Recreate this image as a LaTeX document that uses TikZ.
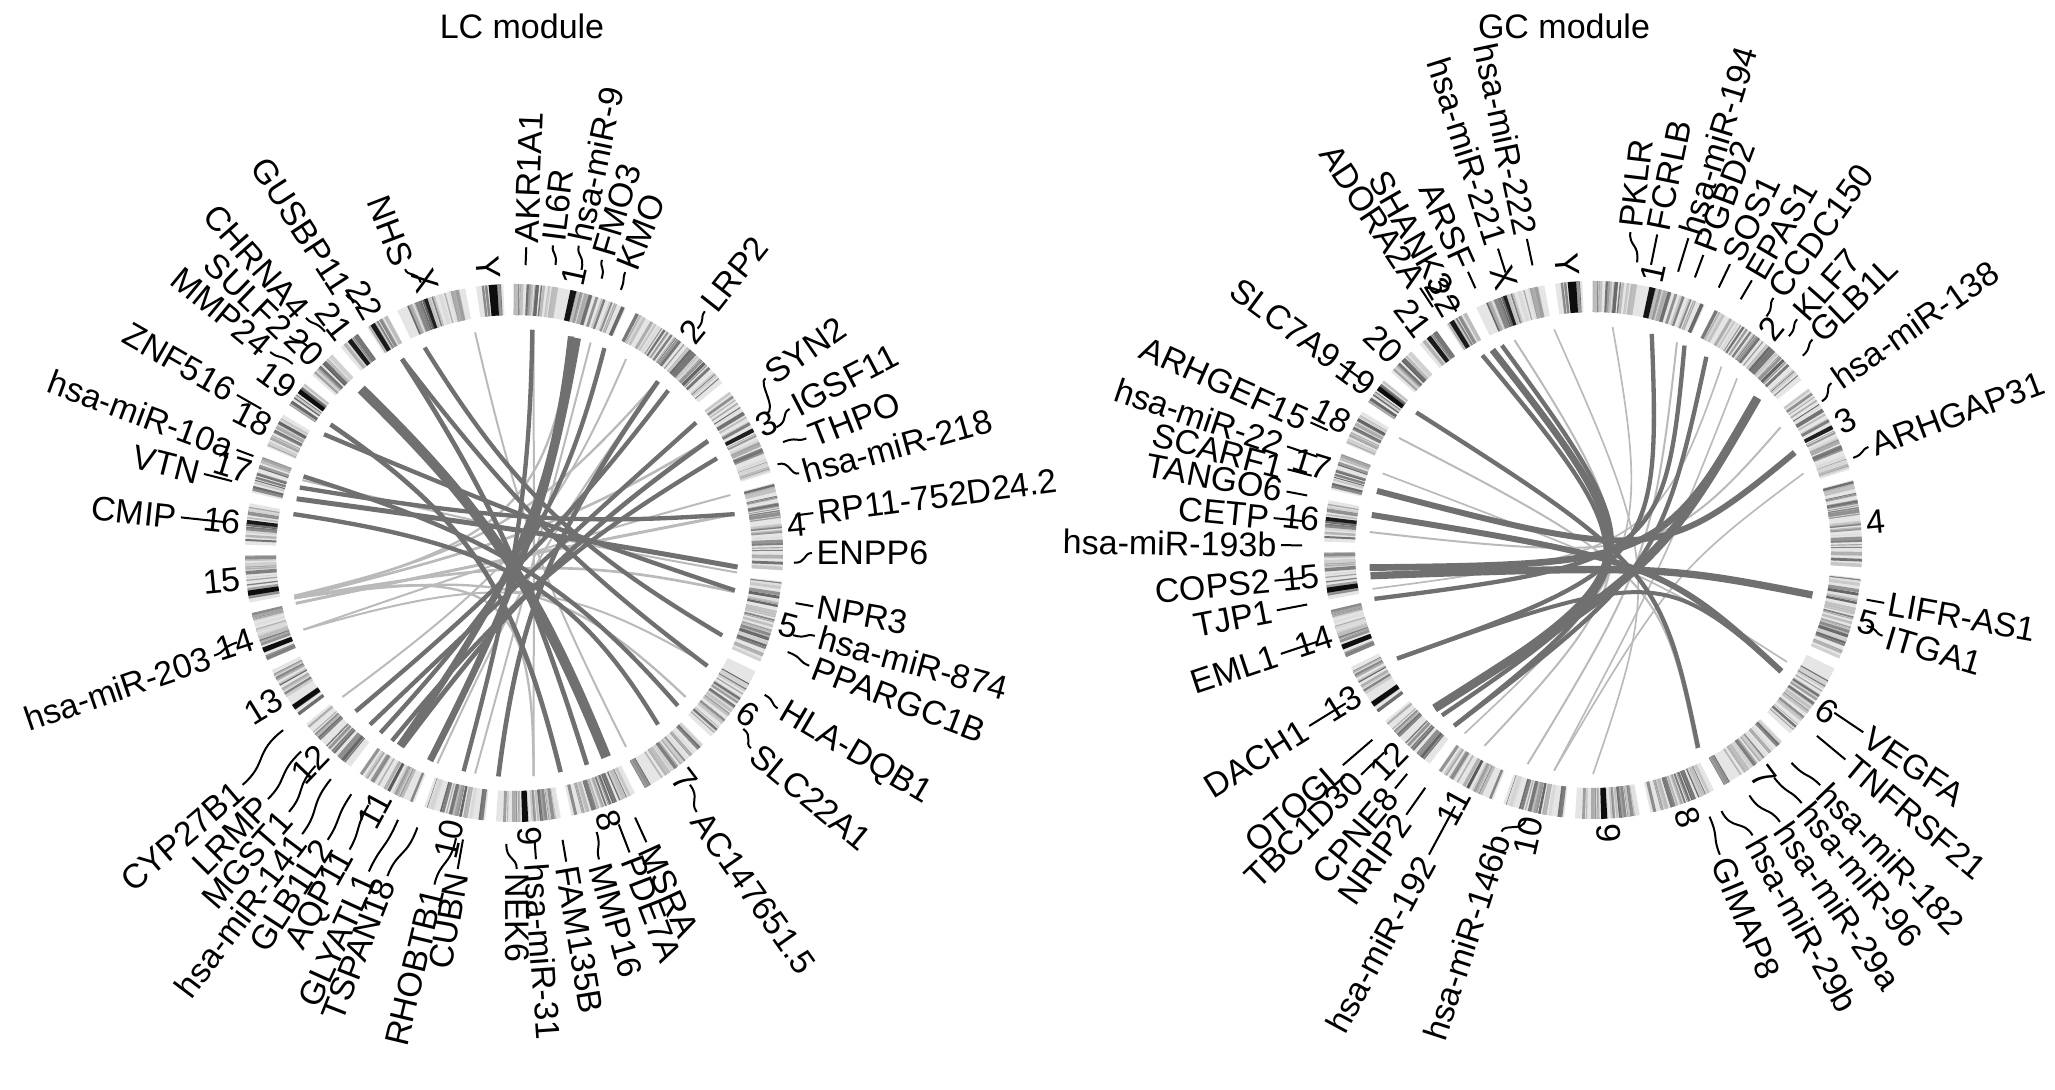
\documentclass[tikz,border=0pt]{standalone}
\usepackage{fontspec}
\setmainfont{Liberation Sans}
\usetikzlibrary{calc}
\newcounter{lk}\newcounter{gl}\newcounter{cn}
\def\Ro{269}\def\Ri{238}\def\Rl{224}
\tikzset{
  darklink/.style={draw=black!56},
  lightlink/.style={draw=black!27},
  genelabel/.style={inner sep=0pt, font=\fontsize{10.2}{12}\selectfont},
  chrlabel/.style={inner sep=0pt, font=\fontsize{10.2}{12}\selectfont},
  squig/.style={draw=black, line width=0.6pt},
  titlelabel/.style={inner sep=0pt, font=\fontsize{10.2}{12}\selectfont}
}
% one chromosome of the ideogram ring
\newcommand\ideo[4]{%
  \fill[black!10] ($(#1)+({90-(#2)}:\Ri)$) arc[start angle={90-(#2)}, end angle={90-(#3)}, radius=\Ri]
     -- ($(#1)+({90-(#3)}:\Ro)$) arc[start angle={90-(#3)}, end angle={90-(#2)}, radius=\Ro] -- cycle;
  \pgfmathtruncatemacro\nst{(#3-#2)*1.9}%
  \foreach \k in {1,...,\nst}{%
    \pgfmathsetmacro\pa{#2+0.25+(#3-#2-0.5)*rnd}%
    \pgfmathsetmacro\gw{0.25+0.85*rnd}%
    \pgfmathtruncatemacro\gd{12+50*rnd}%
    \draw[black!\gd, line width={\gw*1pt}] ($(#1)+({90-\pa}:\Ri)$) -- ($(#1)+({90-\pa}:\Ro)$);
  }%
  \foreach \fa/\wa/\da in {#4}{%
    \pgfmathsetmacro\pa{#2+(#3-#2)*\fa}%
    \fill[black!\da] ($(#1)+({90-\pa+\wa/2}:\Ri)$) arc[start angle={90-\pa+\wa/2}, end angle={90-\pa-\wa/2}, radius=\Ri]
      -- ($(#1)+({90-\pa-\wa/2}:\Ro)$) arc[start angle={90-\pa-\wa/2}, end angle={90-\pa+\wa/2}, radius=\Ro] -- cycle;
  }%
}
\newcommand\allideo[1]{%
 \pgfmathsetseed{11}%
 \ideo{#1}{0}{24.54}{0.52/1.3/92,0.12/0.5/55,0.8/0.5/50}%
 \ideo{#1}{26.84}{50.79}{0.3/0.5/55,0.62/0.5/55}%
 \ideo{#1}{53.09}{72.59}{0.5/0.9/88}%
 \ideo{#1}{74.89}{93.72}{0.25/0.5/55,0.7/0.4/50}%
 \ideo{#1}{96.02}{113.83}{0.3/0.5/60}%
 \ideo{#1}{116.13}{132.98}{0.4/0.5/55}%
 \ideo{#1}{135.28}{150.95}{0.5/0.5/50}%
 \ideo{#1}{153.25}{167.66}{0.4/0.5/55}%
 \ideo{#1}{169.96}{183.86}{0.55/1.3/95}%
 \ideo{#1}{186.16}{199.50}{0.4/0.5/60}%
 \ideo{#1}{201.80}{215.09}{0.45/0.6/65}%
 \ideo{#1}{217.39}{230.57}{0.35/0.5/55}%
 \ideo{#1}{232.87}{244.21}{0.19/1.1/95}%
 \ideo{#1}{246.51}{257.08}{0.22/1.1/95}%
 \ideo{#1}{259.38}{269.47}{0.2/1.1/95}%
 \ideo{#1}{271.77}{280.67}{0.55/0.8/90}%
 \ideo{#1}{282.97}{290.97}{0.5/0.4/55}%
 \ideo{#1}{293.27}{300.96}{0.5/0.4/55}%
 \ideo{#1}{303.26}{309.08}{0.64/1.0/95}%
 \ideo{#1}{311.38}{317.58}{0.4/0.4/55}%
 \ideo{#1}{319.88}{324.62}{0.52/1.0/90}%
 \ideo{#1}{326.92}{331.97}{0.27/1.0/90}%
 \ideo{#1}{334.27}{349.56}{0.43/0.7/88}%
 \ideo{#1}{351.86}{357.71}{0.62/1.8/95}%
}
% link bent towards a hub point: #1 centre, #2/#3 angles, #4 width, #5 style, #6/#7 hub offset, #8 pull
\newcommand\lnk[8]{%
  \stepcounter{lk}%
  \coordinate (la\thelk) at ($(#1)+({90-(#2)}:\Rl)$);
  \coordinate (lb\thelk) at ($(#1)+({90-(#3)}:\Rl)$);
  \coordinate (lh\thelk) at ($(#1)+(#6,#7)$);
  \draw[#5, line width={(#4)*1pt}] (la\thelk) .. controls ($(la\thelk)!#8!(lh\thelk)$) and ($(lb\thelk)!#8!(lh\thelk)$) .. (lb\thelk);
}
% gene label with its little connector
\newcommand\glab[5]{%
  \stepcounter{gl}%
  \ifdim #2 pt<180pt\relax\def\lanc{west}\pgfmathsetmacro\lrot{90-(#2)}\else\def\lanc{east}\pgfmathsetmacro\lrot{270-(#2)}\fi
  \pgfmathsetmacro\sr{min(#3-22,\Ro+22)}%
  \pgfmathsetmacro\mr{(\sr+#3)/2}%
  \node[genelabel, rotate=\lrot, anchor=\lanc] (gl\thegl) at ($(#1)+({90-(#2)}:{#3})$) {#4};
  \coordinate (gs\thegl) at ($(#1)+({90-(#2)-(#5)}:{\sr})$);
  \coordinate (ge\thegl) at ($(#1)+({90-(#2)}:{#3-4})$);
  \draw[squig] (gs\thegl) .. controls ($(#1)+({90-(#2)-(#5)}:{\mr+2})$) and ($(#1)+({90-(#2)}:{\mr-2})$) .. (ge\thegl);
}
\newcommand\cnum[3]{%
  \stepcounter{cn}%
  \ifdim #2 pt<180pt\relax\def\lanc{west}\pgfmathsetmacro\lrot{90-(#2)}\else\def\lanc{east}\pgfmathsetmacro\lrot{270-(#2)}\fi
  \node[chrlabel, rotate=\lrot, anchor=\lanc] (cn\thecn) at ($(#1)+({90-(#2)}:{\Ro+5})$) {#3};
}
\newcommand\allnums[1]{%
  \foreach \ang/\txt in {12.27/1,38.82/2,62.84/3,84.31/4,104.93/5,124.56/6,143.12/7,160.46/8,176.91/9,192.83/10,208.45/11,223.98/12,238.54/13,251.80/14,264.43/15,276.22/16,286.97/17,297.12/18,306.17/19,314.48/20,322.25/21,329.45/22,341.92/X,354.79/Y}{\cnum{#1}{\ang}{\txt}}%
}
\begin{document}
\begin{tikzpicture}[x=0.3pt,y=0.3pt]
\useasboundingbox (0,0) rectangle (2055,1090);
\coordinate (LC) at (514,537);
\coordinate (GC) at (1593,540);
\node[titlelabel] (t1) at (522,1064) {LC module};
\node[titlelabel] (t2) at (1564,1064) {GC module};

\allideo{LC}
\allideo{GC}
\allnums{LC}
\allnums{GC}

% ---------- LC links ----------
\foreach \ea/\eb/\lw/\hx/\hy in {258.4/60/0.8/40/20,258.4/100/0.8/40/0,258.4/130/0.7/30/-10,258.4/175/0.7/20/-5,258.4/15/0.7/30/20,257/80/0.9/20/0,259/40/0.7/0/10,75/250/0.6/40/10,289/95/0.6/30/15,175/5/0.6/20/10,200/40/0.6/20/0,230/30/0.6/30/5,250/120/0.6/20/-10,150/350/0.6/10/10,190/20/0.6/30/30}
  {\lnk{LC}{\ea}{\eb}{\lw}{lightlink}{\hx}{\hy}{0.85}}
\foreach \ea/\eb/\lw/\hx/\hy in {4.7/193/1.3/15/25,14.8/210.7/2.0/35/20,16.5/202/2.0/28/12,23.8/216.6/1.3/40/10,43.5/225/1.3/30/0,54.4/220/1.3/25/-10,65/213/1.3/20/-15,80/287/1.3/30/25,93.6/284/1.5/35/20,99.6/302/1.3/25/28,111.6/336.5/1.3/20/30,120.3/330/1.3/30/10,133/290/1.3/30/0,155.7/317/3.0/5/10,161/330/1.4/0/20,168/305/1.4/-10/10,184/40/1.4/10/-20,140/280/1.3/40/0,210/60/1.4/30/-5}
  {\lnk{LC}{\ea}{\eb}{\lw}{darklink}{\hx}{\hy}{0.8}}

% ---------- GC links ----------
\foreach \ea/\eb/\lw/\hx/\hy in {56.8/274.6/0.6/68/-15,22/197/0.6/60/-8,339.5/209/0.6/64/-12,152.5/300/0.6/70/-24,5/215/0.5/60/-8,40/190/0.5/74/-8,260/35/0.5/64/-2,350/180/0.5/70/-22,190/70/0.5/78/-22,120/290/0.5/60/-26}
  {\lnk{GC}{\ea}{\eb}{\lw}{lightlink}{\hx}{\hy}{0.95}}
\foreach \ea/\eb/\lw/\hx/\hy in {263.4/101.6/2.2/68/-15,265.5/47.2/2.0/68/-15,279/122.8/1.8/70/-12,285.3/64.2/1.8/66/-15,307.9/152/1.3/68/-18,330.4/218.3/1.3/64/-15,333.3/225/2.0/68/-15,336/222.4/1.3/70/-15,15.2/241/1.3/68/-15,24.1/257.4/1.3/72/-12,30.4/218.3/1.3/68/-18,47.2/225/2.6/68/-15,241/122.8/1.2/68/-15}
  {\lnk{GC}{\ea}{\eb}{\lw}{darklink}{\hx}{\hy}{0.97}}

% ---------- LC labels ----------
\foreach \ang/\rad/\txt/\dl in {2.3/310/AKR1A1/0,7.2/314/IL6R/1,11.9/318/hsa-miR-9/1.5,16.7/310/FMO3/1,21.6/306/KMO/0.5,38.3/312/LRP2/1,55.2/310/SYN2/6,62.4/315/IGSF11/2,68.6/318/THPO/-1,74.4/300/hsa-miR-218/-3,82.4/306/RP11-752D24.2/0,90/302/ENPP6/2,100.1/308/NPR3/0,105.4/316/hsa-miR-874/1,110.9/320/PPARGC1B/-1,120.5/310/HLA-DQB1/-1,129.5/311/SLC22A1/-2,144.8/321/AC147651.5/-2,155.4/322/MSRA/0,158.9/325/PDE7A/0,164.5/322/MMP16/-1,170.4/317/FAM135B/0,175.9/311/hsa-miR-31/0,179.5/320/NEK6/2,190.1/325/CUBN/0,193.5/345/RHOBTB1/-2,201.4/351/TSPAN18/-2,204.5/354/GLYATL1/-1,209/343/AQP11/1,213/346/GLB1L2/1,217/356/hsa-miR-141/2,221/347/MGST1/2,225/352/LRMP/2,229.5/361/CYP27B1/3,251.1/321/hsa-miR-203/1,276.1/339/CMIP/0,284.3/324/VTN/0,290.4/300/hsa-miR-10a/0,299.7/323/ZNF516/0,309.5/320/MMP24/1,314/316/SULF2/1,318.5/318/CHRNA4/1,327/312/GUSBP11/1,339/308/NHS/2}
  {\glab{LC}{\ang}{\rad}{\txt}{\dl}}

% ---------- GC labels ----------
\foreach \ang/\rad/\txt/\dl in {6.7/324/PKLR/2,11.5/326/FCRLB/0,17/330/hsa-miR-194/0,20.5/319/PGBD2/0,25.6/321/SOS1/0,30.5/317/EPAS1/0,35.6/314/CCDC150/1,41.5/312/KLF7/1,46.2/308/GLB1L/1,55/295/hsa-miR-138/2,69.5/298/ARHGAP31/1,100.3/300/LIFR-AS1/0,106.5/306/ITGA1/-1,124/330/VEGFA/0,129.7/332/TNFRSF21/0,136/331/hsa-miR-182/1,140.5/332/hsa-miR-96/1,145.5/334/hsa-miR-29a/2,150.8/331/hsa-miR-29b/3,157.4/334/GIMAP8/-1,198/300/hsa-miR-146b/-4,208.3/350/hsa-miR-192/0,215.2/328/NRIP2/0,219.7/314/CPNE8/0,225.9/327/TBC1D30/0,229.3/334/OTOGL/0,238.2/338/DACH1/0,251.6/333/EML1/0,259.2/326/TJP1/0,264.5/324/COPS2/0,270.9/316/hsa-miR-193b/0,275.7/325/CETP/0,280.8/316/TANGO6/0,284.8/320/SCARF1/0,288.7/327/hsa-miR-22/0,294.3/314/ARHGEF15/0,306.4/318/SLC7A9/0,326.6/318/ADORA2A/0,330.2/297/SHANK3/0,335.8/309/ARSF/0,342.5/320/hsa-miR-221/0,348/322/hsa-miR-222/0}
  {\glab{GC}{\ang}{\rad}{\txt}{\dl}}
\end{tikzpicture}
\end{document}
